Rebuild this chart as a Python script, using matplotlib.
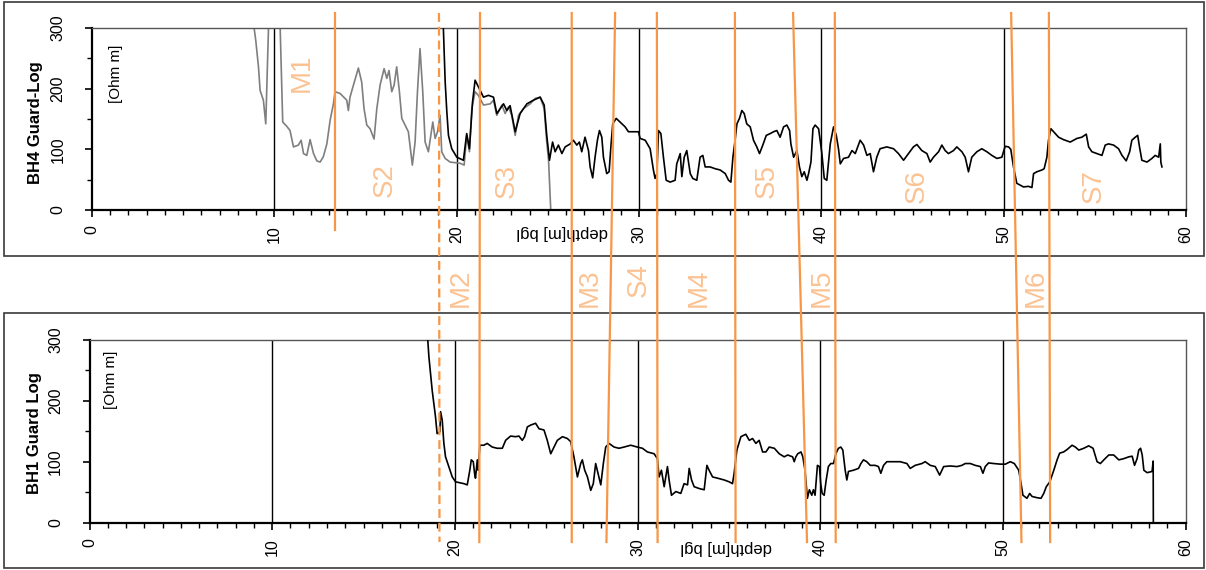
import matplotlib
matplotlib.use('Agg')
import matplotlib.pyplot as plt
from matplotlib.lines import Line2D
from matplotlib.patches import Rectangle
from matplotlib.transforms import blended_transform_factory
from matplotlib.ticker import MultipleLocator

plt.rcParams['font.family'] = ['Liberation Sans', 'DejaVu Sans']

# BH4 guard log, older run (gray)
bh4_gray_depth = [8.89, 8.98, 9.13, 9.22, 9.40, 9.53, 9.68, 9.75, 10.25, 10.32,
                  10.46, 10.68, 10.86, 11.05, 11.32, 11.47, 11.60, 11.78, 11.96, 12.15,
                  12.33, 12.51, 12.69, 12.88, 13.06, 13.24, 13.33, 13.61, 13.97, 14.06,
                  14.15, 14.34, 14.61, 14.79, 14.92, 15.07, 15.25, 15.47, 15.62, 15.80,
                  16.02, 16.17, 16.29, 16.44, 16.57, 16.71, 16.86, 16.99, 17.17, 17.35,
                  17.57, 17.72, 17.85, 17.99, 18.14, 18.27, 18.45, 18.69, 18.82, 18.95,
                  19.09, 19.18, 19.37, 19.64, 20.19, 20.41, 20.55, 20.70, 20.83, 21.01,
                  21.19, 21.47, 21.84, 22.02, 22.20, 22.48, 22.66, 22.84, 23.02, 23.21,
                  23.39, 23.66, 24.03, 24.31, 24.58, 24.80, 24.94, 25.04, 25.16]
bh4_gray_res = [300, 280, 236, 197, 181, 142, 300, 330, 330, 300,
                145, 138, 131, 104, 107, 115, 93, 90, 116, 93,
                81, 79, 88, 109, 148, 175, 195, 192, 181, 164,
                186, 206, 234, 211, 167, 140, 134, 117, 167, 206,
                233, 217, 230, 195, 206, 236, 195, 151, 140, 129,
                74, 112, 195, 266, 195, 112, 96, 145, 118, 129,
                156, 96, 85, 79, 77, 74, 123, 96, 167, 195,
                189, 173, 175, 181, 156, 173, 159, 170, 156, 123,
                156, 167, 175, 184, 186, 167, 112, 82, 0]

# BH4 guard log (black)
bh4_depth = [19.27, 19.37, 19.46, 19.55, 19.73, 20.01, 20.37, 20.55, 20.70, 20.87,
             21.01, 21.19, 21.47, 21.74, 22.02, 22.20, 22.57, 22.75, 22.93, 23.21,
             23.48, 23.85, 24.21, 24.58, 24.80, 24.94, 25.09, 25.26, 25.40, 25.58,
             25.77, 25.95, 26.23, 26.40, 26.59, 26.73, 26.86, 27.04, 27.23, 27.32,
             27.46, 27.59, 27.72, 27.83, 27.96, 28.05, 28.23, 28.36, 28.47, 28.56,
             28.75, 28.96, 29.24, 29.42, 29.70, 29.97, 30.06, 30.34, 30.61, 30.79,
             30.88, 30.98, 31.07, 31.20, 31.34, 31.49, 31.71, 31.98, 32.07, 32.26,
             32.35, 32.48, 32.62, 32.81, 32.95, 33.17, 33.35, 33.50, 33.63, 33.90,
             34.18, 34.45, 34.73, 34.91, 35.04, 35.15, 35.27, 35.37, 35.51, 35.64,
             35.77, 35.91, 36.10, 36.28, 36.46, 36.61, 36.79, 36.98, 37.20, 37.38,
             37.56, 37.74, 37.93, 38.11, 38.26, 38.33, 38.48, 38.66, 38.80, 38.93,
             39.06, 39.21, 39.30, 39.43, 39.54, 39.66, 39.85, 40.03, 40.16, 40.30,
             40.49, 40.67, 40.82, 40.94, 41.04, 41.22, 41.49, 41.68, 41.86, 42.13,
             42.32, 42.50, 42.68, 42.86, 43.04, 43.22, 43.59, 43.96, 44.23, 44.51,
             44.78, 45.05, 45.24, 45.51, 45.79, 45.97, 46.15, 46.43, 46.61, 46.79,
             46.97, 47.25, 47.43, 47.71, 47.89, 48.07, 48.25, 48.53, 48.80, 49.08,
             49.35, 49.63, 49.90, 50.08, 50.27, 50.39, 50.54, 50.72, 50.91, 51.09,
             51.36, 51.55, 51.64, 51.82, 52.10, 52.22, 52.37, 52.46, 52.59, 52.74,
             53.01, 53.28, 53.65, 54.02, 54.29, 54.53, 54.66, 54.84, 55.11, 55.39,
             55.57, 55.75, 56.03, 56.30, 56.49, 56.72, 56.91, 57.03, 57.22, 57.35,
             57.45, 57.58, 57.86, 58.13, 58.31, 58.50, 58.59, 58.62, 58.68]
bh4_res = [300, 211, 162, 123, 101, 87, 82, 126, 101, 178,
           214, 203, 186, 189, 186, 159, 175, 164, 172, 129,
           159, 175, 181, 186, 173, 123, 82, 112, 96, 107,
           93, 104, 109, 115, 107, 112, 96, 120, 98, 71,
           53, 87, 115, 131, 120, 87, 60, 63, 109, 142,
           151, 145, 137, 129, 129, 129, 118, 115, 101, 66,
           52, 60, 131, 126, 87, 49, 46, 49, 76, 93,
           55, 87, 98, 60, 52, 49, 87, 90, 71, 71,
           68, 66, 60, 49, 46, 87, 115, 142, 151, 164,
           159, 142, 137, 115, 104, 93, 107, 123, 126, 129,
           131, 120, 137, 140, 131, 109, 87, 98, 71, 55,
           63, 49, 60, 79, 134, 140, 134, 93, 52, 49,
           109, 137, 123, 101, 76, 85, 87, 98, 93, 115,
           107, 90, 93, 63, 87, 101, 104, 101, 93, 82,
           93, 104, 108, 98, 93, 79, 87, 96, 107, 98,
           93, 98, 104, 96, 87, 63, 87, 96, 101, 96,
           90, 85, 87, 105, 104, 100, 71, 44, 41, 38,
           39, 37, 60, 63, 66, 68, 87, 115, 134, 129,
           120, 116, 112, 118, 120, 125, 104, 96, 93, 90,
           107, 109, 107, 101, 90, 81, 96, 115, 120, 123,
           104, 82, 79, 85, 90, 87, 109, 79, 71]

# BH1 guard log (black)
bh1_depth = [18.52, 18.58, 18.67, 18.76, 18.85, 18.94, 19.03, 19.18, 19.22, 19.31,
             19.40, 19.49, 19.67, 19.86, 20.04, 20.50, 20.68, 20.82, 20.90, 21.01,
             21.08, 21.13, 21.23, 21.28, 21.37, 21.59, 21.77, 22.05, 22.32, 22.60,
             22.78, 23.05, 23.33, 23.51, 23.69, 23.82, 23.97, 24.15, 24.42, 24.61,
             24.88, 25.06, 25.25, 25.43, 25.61, 25.89, 26.16, 26.34, 26.52, 26.71,
             26.89, 26.98, 27.11, 27.26, 27.44, 27.58, 27.71, 27.84, 27.99, 28.13,
             28.26, 28.44, 28.72, 28.99, 29.26, 29.63, 29.99, 30.27, 30.54, 30.91,
             31.09, 31.18, 31.31, 31.46, 31.64, 31.73, 31.86, 32.10, 32.37, 32.55,
             32.74, 32.83, 32.96, 33.10, 33.38, 33.65, 33.80, 33.92, 34.11, 34.38,
             34.75, 35.02, 35.20, 35.29, 35.44, 35.66, 35.93, 36.12, 36.30, 36.48,
             36.66, 36.85, 37.03, 37.21, 37.49, 37.76, 38.03, 38.22, 38.49, 38.58,
             38.67, 38.77, 38.95, 39.05, 39.17, 39.30, 39.41, 39.54, 39.63, 39.72,
             39.85, 39.96, 40.03, 40.11, 40.22, 40.33, 40.45, 40.58, 40.73, 40.87,
             41.00, 41.13, 41.24, 41.37, 41.46, 41.55, 41.82, 42.10, 42.23, 42.37,
             42.55, 42.74, 43.01, 43.19, 43.32, 43.47, 43.65, 44.02, 44.38, 44.75,
             44.93, 45.20, 45.57, 45.75, 46.03, 46.30, 46.54, 46.76, 47.12, 47.49,
             47.76, 47.94, 48.22, 48.49, 48.77, 48.91, 49.04, 49.22, 49.50, 49.86,
             50.14, 50.41, 50.63, 50.87, 51.00, 51.10, 51.32, 51.47, 51.60, 51.87,
             52.09, 52.24, 52.38, 52.57, 52.79, 52.97, 53.11, 53.33, 53.52, 53.79,
             53.97, 54.16, 54.43, 54.70, 54.94, 55.16, 55.34, 55.53, 55.80, 56.07,
             56.35, 56.62, 56.90, 57.08, 57.21, 57.35, 57.44, 57.54, 57.63, 57.72,
             57.90, 58.17, 58.23, 58.24]
bh1_res = [299, 272, 244, 217, 195, 174, 146, 149, 182, 168,
           130, 108, 92, 75, 67, 64, 62, 86, 103, 100,
           81, 73, 103, 86, 127, 127, 130, 124, 122, 122,
           135, 142, 141, 142, 135, 141, 157, 160, 163, 154,
           152, 135, 113, 124, 135, 141, 138, 133, 108, 75,
           97, 103, 86, 75, 53, 64, 97, 81, 62, 97,
           124, 130, 124, 122, 124, 127, 124, 122, 116, 113,
           105, 75, 86, 59, 92, 70, 45, 51, 48, 64,
           62, 89, 70, 59, 56, 54, 94, 86, 75, 73,
           70, 67, 64, 81, 119, 141, 145, 135, 138, 130,
           135, 116, 116, 124, 122, 113, 108, 111, 108, 100,
           108, 113, 116, 108, 86, 40, 54, 45, 54, 45,
           94, 92, 64, 48, 45, 70, 92, 97, 97, 114,
           122, 124, 119, 86, 70, 84, 86, 89, 97, 103,
           100, 94, 94, 92, 81, 94, 100, 100, 100, 97,
           89, 94, 97, 100, 94, 92, 78, 92, 93, 92,
           94, 97, 97, 94, 92, 81, 92, 98, 97, 96,
           96, 100, 97, 86, 64, 45, 40, 48, 43, 41,
           40, 48, 59, 67, 86, 103, 114, 116, 120, 127,
           124, 119, 122, 126, 122, 100, 97, 103, 111, 111,
           103, 105, 108, 109, 94, 105, 119, 122, 111, 86,
           82, 84, 101, 0]

x_ticks = [0, 10, 20, 30, 40, 50, 60]
y_ticks = [0, 100, 200, 300]

# correlation boundaries: depth on BH4 (top end) and BH1 (bottom end)
bound_top = [13.33, 19.03, 21.28, 26.31, 28.69, 30.98, 35.26, 38.45, 40.74, 50.41, 52.48]
bound_bot = [13.33, 19.16, 21.34, 26.40, 28.30, 31.10, 35.37, 39.28, 40.85, 51.02, 52.59]
bound_full = [False, True, True, True, True, True, True, True, True, True, True]
bound_dashed = [False, True, False, False, False, False, False, False, False, False, False]

# unit labels inside BH4 panel
unit_top_labels = ['M1', 'S2', 'S3', 'S5', 'S6', 'S7']
unit_top_depth = [11.52, 16.07, 22.76, 37.03, 45.26, 54.96]
unit_top_res = [227, 49, 47, 47, 39, 39]
# unit labels between the panels
unit_mid_labels = ['M2', 'M3', 'S4', 'M4', 'M5', 'M6']
unit_mid_depth = [20.24, 27.32, 30.0, 33.30, 40.04, 51.78]

orange = '#F79646'
orange_light = '#FBC393'

W, H = 1206, 570
fig = plt.figure(figsize=(W / 100, H / 100), dpi=100)

# panel frames
for (x0, y0, x1, y1) in [(4, 2, 1204, 256), (4, 313, 1204, 568)]:
    fig.add_artist(Rectangle((x0 / W, 1 - y1 / H), (x1 - x0) / W, (y1 - y0) / H,
                             transform=fig.transFigure, fill=False,
                             ec='#3a3a3a', lw=1.2))

ax1 = fig.add_axes([92 / W, 1 - 210 / H, 1094 / W, 182 / H])
ax2 = fig.add_axes([89.5 / W, 1 - 522.7 / H, 1096 / W, 183 / H])


def style(ax, ylab, xlab_pos, ylab_pos):
    ax.set_xlim(0, 60)
    ax.set_ylim(0, 300)
    ax.set_xticks(x_ticks, labels=[str(v) for v in x_ticks], rotation=90,
                  rotation_mode='default', ha='center', va='top', fontsize=11.5)
    ax.set_yticks(y_ticks, labels=[str(v) for v in y_ticks], rotation=90,
                  rotation_mode='default', ha='right', va='center', fontsize=11.5)
    ax.xaxis.set_minor_locator(MultipleLocator(1))
    ax.yaxis.set_minor_locator(MultipleLocator(50))
    ax.tick_params(axis='both', which='major', direction='out', length=5, width=1.2,
                   color='black')
    ax.tick_params(axis='both', which='minor', direction='out', length=3.5, width=1.0)
    ax.tick_params(axis='x', which='major', pad=6)
    ax.tick_params(axis='y', which='major', pad=14)
    for s in ['left', 'bottom']:
        ax.spines[s].set_color('black')
        ax.spines[s].set_linewidth(1.6)
    for s in ['top', 'right']:
        ax.spines[s].set_color('#555555')
        ax.spines[s].set_linewidth(1.0)
    for d in [10, 20, 30, 40, 50]:
        ax.axvline(d, color='black', lw=1.0, zorder=1)
    ax.set_ylabel(ylab, fontsize=12, fontweight='bold')
    ax.yaxis.set_label_coords(*ylab_pos)
    ax.set_xlabel('depth[m] bgl', fontsize=12, rotation=180, va='center')
    ax.xaxis.set_label_coords(*xlab_pos)


style(ax1, 'BH4 Guard-Log', (0.4296, -0.126), (-0.045, 0.48))
style(ax2, 'BH1 Guard Log', (0.5807, -0.133), (-0.043, 0.49))

ax1.plot(bh4_gray_depth, bh4_gray_res, color='#7f7f7f', lw=1.2, zorder=2)
ax1.plot(bh4_depth, bh4_res, color='black', lw=1.2, zorder=3)
ax2.plot(bh1_depth, bh1_res, color='black', lw=1.2, zorder=3)

ax1.text(1.32, 224, '[Ohm m]', rotation=90, ha='center', va='center', fontsize=11)
ax2.text(1.18, 234, '[Ohm m]', rotation=90, ha='center', va='center', fontsize=11)

# correlation lines across both panels (figure coordinates)
to_fig = fig.transFigure.inverted()
y_top = 1 - 13 / H
for dt, db, full, dashed in zip(bound_top, bound_bot, bound_full, bound_dashed):
    xt = to_fig.transform(ax1.transData.transform((dt, 0)))[0]
    if full:
        xb = to_fig.transform(ax2.transData.transform((db, 0)))[0]
        yb = 1 - 542 / H
    else:
        xb = to_fig.transform(ax1.transData.transform((db, 0)))[0]
        yb = 1 - 230 / H
    ls = (0, (4, 2.2)) if dashed else '-'
    fig.add_artist(Line2D([xt, xb], [y_top, yb], transform=fig.transFigure,
                          color=orange, lw=1.6, linestyle=ls, zorder=5))

for lab, d, r in zip(unit_top_labels, unit_top_depth, unit_top_res):
    ax1.text(d, r, lab, rotation=90, ha='center', va='center', fontsize=20,
             color=orange_light, zorder=4)

mid = blended_transform_factory(ax1.transData, fig.transFigure)
for lab, d in zip(unit_mid_labels, unit_mid_depth):
    yy = 1 - (280 if lab == 'S4' else 288) / H
    fig.text(d, yy, lab, transform=mid, rotation=90, ha='center', va='center',
             fontsize=20, color=orange_light)

fig.savefig('out.png', dpi=100)
